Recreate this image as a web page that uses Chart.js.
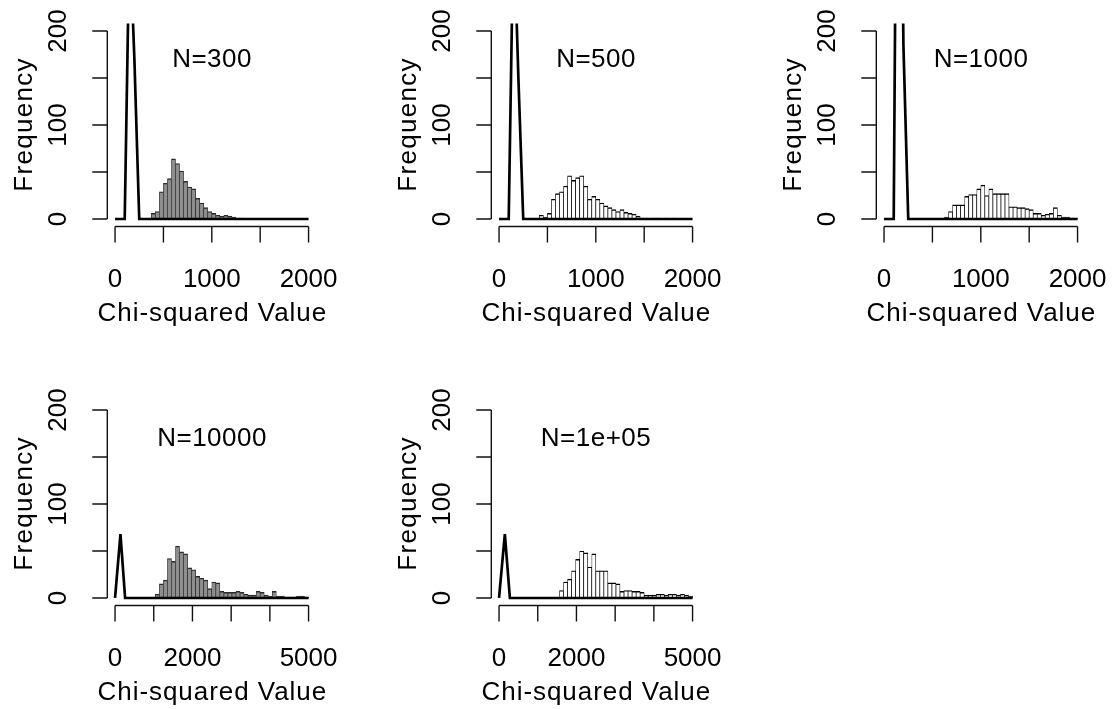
<!DOCTYPE html>
<html>
<head>
<meta charset="utf-8">
<script src="https://cdn.jsdelivr.net/npm/chart.js@4.4.1/dist/chart.umd.min.js"></script>
<style>
  html, body { margin: 0; padding: 0; background: #fff; overflow: hidden; }
  #wrap { position: relative; width: 1113px; height: 709px; }
  #wrap canvas { position: absolute; }
</style>
</head>
<body>
<div id="wrap"></div>
<script>
// panel titles and x ranges
const titles = ["N=300", "N=500", "N=1000", "N=10000", "N=1e+05"];
const xMax = [2000, 2000, 2000, 5000, 5000];
const nBins = 48; // equal bins from 0 to xMax

// histogram counts per bin
const counts300 = [0,0,0,0,0,0,0,0,0, 6,8,29,38,43,64,59,51,40,34,32,22,17,12,8,6,4,3,4,3,2,1,1, 0,0,0,0,0,0,0,0,0,0,0,0,0,0,0,0];
const counts500 = [0,0,0,0,0,0,0,0,0,0, 4,2,6,21,27,29,35,46,41,44,46,35,21,24,21,17,14,12,10,8,10,7,6,5,3,1,1,0,1,1,0,1,0,1,0,0,0,0];
const counts1000 = [0,0,0,0,0,0,0,0,0,0,0,0,0,0,0, 2,8,15,15,15,24,26,26,32,36,25,32,27,27,27,27,13,13,12,12,11,10,6,6,4,5,6,12,4,2,2,1,1];
const counts10000 = [0,0,0,0,0,0,0,0,0,0, 4,15,19,42,39,55,49,47,32,30,23,21,19,10,17,16,7,6,6,6,7,6,4,3,3,7,6,3,2,7,2,2,1,1,1,2,2,1];
const counts1e5 = [0,0,0,0,0,0,0,0,0,0,0,0,0,0,0, 8,17,20,29,41,50,48,33,47,29,29,29,16,16,15,7,8,8,7,7,6,3,3,3,4,4,3,4,4,3,4,3,2];

// the black curve (spike near zero, then flat)
const curveX300 = [0, 100, 150, 200, 250, 2000];
const curveY300 = [0, 0, 306, 170, 0, 0];
const curveX500 = [0, 100, 150, 200, 250, 2000];
const curveY500 = [0, 0, 320, 150, 0, 0];
const curveX1000 = [0, 100, 150, 200, 250, 2000];
const curveY1000 = [0, 0, 743, 186, 0, 0];
const curveX10000 = [0, 140, 260, 5000];
const curveY10000 = [0, 68, 0, 0];
const curveX1e5 = [0, 150, 280, 5000];
const curveY1e5 = [0, 68, 0, 0];

// axes
const yTicks = [0, 50, 100, 150, 200];
const yTickLabels = ["0", "", "100", "", "200"];
const xTicks2000 = [0, 500, 1000, 1500, 2000];
const xTickLabels2000 = ["0", "", "1000", "", "2000"];
const xTicks5000 = [0, 1000, 2000, 3000, 4000, 5000];
const xTickLabels5000 = ["0", "", "2000", "", "", "5000"];
const xTitle = "Chi-squared Value";
const yTitle = "Frequency";
const titleY = 171;

const allCounts = [counts300, counts500, counts1000, counts10000, counts1e5];
const allCurveX = [curveX300, curveX500, curveX1000, curveX10000, curveX1e5];
const allCurveY = [curveY300, curveY500, curveY1000, curveY10000, curveY1e5];
const allXTicks = [xTicks2000, xTicks2000, xTicks2000, xTicks5000, xTicks5000];
const allXTickLabels = [xTickLabels2000, xTickLabels2000, xTickLabels2000, xTickLabels5000, xTickLabels5000];

// page layout (canvas positions), R-like par(mfrow = c(2, 3))
const canvasLeft = [0, 384, 769, 0, 384];
const canvasTop = [0, 0, 0, 379, 379];
const canvasW = 344, canvasH = 330;
const barFill = ["#8e8e8e", "#ffffff", "#ffffff", "#8e8e8e", "#ffffff"];
const barEdge = ["#2a2a2a", "#000000", "#000000", "#2a2a2a", "#000000"];

const FONT = '"Liberation Sans", Arial, sans-serif';
const FS = 26;

function spaced(ctx, px) {
  if ("letterSpacing" in ctx) ctx.letterSpacing = px + "px";
}

// draws R style axes, labels and the panel title
const rAxes = {
  id: "rAxes",
  afterDraw(chart, args, opts) {
    const { ctx, chartArea: a } = chart;
    const x = chart.scales.x, y = chart.scales.y;
    ctx.save();
    ctx.strokeStyle = "#111";
    ctx.lineWidth = 1.4;
    ctx.beginPath();
    // y axis
    ctx.moveTo(a.left, y.getPixelForValue(yTicks[0]));
    ctx.lineTo(a.left, y.getPixelForValue(yTicks[yTicks.length - 1]));
    yTicks.forEach(v => {
      const py = y.getPixelForValue(v);
      ctx.moveTo(a.left, py);
      ctx.lineTo(a.left - 15, py);
    });
    // x axis
    const xt = opts.xTicks;
    ctx.moveTo(x.getPixelForValue(xt[0]), a.bottom);
    ctx.lineTo(x.getPixelForValue(xt[xt.length - 1]), a.bottom);
    xt.forEach(v => {
      const px = x.getPixelForValue(v);
      ctx.moveTo(px, a.bottom);
      ctx.lineTo(px, a.bottom + 16);
    });
    ctx.stroke();

    ctx.fillStyle = "#000";
    ctx.font = FS + "px " + FONT;
    ctx.textBaseline = "alphabetic";
    ctx.textAlign = "center";
    // x tick labels
    spaced(ctx, 0);
    xt.forEach((v, i) => {
      if (opts.xLabels[i]) ctx.fillText(opts.xLabels[i], x.getPixelForValue(v), a.bottom + 60);
    });
    // y tick labels (parallel to axis)
    yTicks.forEach((v, i) => {
      if (!yTickLabels[i]) return;
      ctx.save();
      ctx.translate(a.left - 41, y.getPixelForValue(v));
      ctx.rotate(-Math.PI / 2);
      ctx.fillText(yTickLabels[i], 0, 0);
      ctx.restore();
    });
    // x title
    spaced(ctx, 0.95);
    ctx.fillText(xTitle, (a.left + a.right) / 2 + 0.5, a.bottom + 94);
    // panel title
    spaced(ctx, 0.5);
    ctx.fillText(opts.title, x.getPixelForValue(opts.xMax / 2) + 0.25, y.getPixelForValue(titleY) + 9);
    // y title
    spaced(ctx, 1.3);
    ctx.save();
    ctx.translate(a.left - 75, (a.top + a.bottom) / 2 - 0.6);
    ctx.rotate(-Math.PI / 2);
    ctx.fillText(yTitle, 0, 0);
    ctx.restore();
    ctx.restore();
  }
};

const wrap = document.getElementById("wrap");

titles.forEach((title, p) => {
  const canvas = document.createElement("canvas");
  canvas.width = canvasW;
  canvas.height = canvasH;
  canvas.style.left = canvasLeft[p] + "px";
  canvas.style.top = canvasTop[p] + "px";
  wrap.appendChild(canvas);

  const w = xMax[p] / nBins;
  const bars = allCounts[p].map((c, i) => ({ x: (i + 0.5) * w, y: c }));
  const curve = allCurveX[p].map((v, i) => ({ x: v, y: allCurveY[p][i] }));

  new Chart(canvas.getContext("2d"), {
    type: "bar",
    data: {
      datasets: [
        {
          type: "line",
          data: curve,
          borderColor: "#000",
          borderWidth: 2.7,
          pointRadius: 0,
          fill: false,
          tension: 0,
          order: 0
        },
        {
          type: "bar",
          data: bars,
          backgroundColor: barFill[p],
          borderColor: barEdge[p],
          borderWidth: { top: 1.4, left: 0.7, right: 0.7, bottom: 0 },
          borderSkipped: "start",
          barPercentage: 1,
          categoryPercentage: 1,
          order: 1
        }
      ]
    },
    options: {
      responsive: false,
      animation: false,
      devicePixelRatio: 1,
      events: [],
      layout: { padding: { left: 107.3, top: 23.5, right: 27.7, bottom: 103.5 } },
      plugins: {
        legend: { display: false },
        tooltip: { enabled: false },
        rAxes: {
          title: title,
          xMax: xMax[p],
          xTicks: allXTicks[p],
          xLabels: allXTickLabels[p]
        }
      },
      scales: {
        x: { type: "linear", min: -0.04 * xMax[p], max: 1.04 * xMax[p], offset: false, display: false },
        y: { type: "linear", min: -8, max: 208, display: false }
      }
    },
    plugins: [rAxes]
  });
});
</script>
</body>
</html>
